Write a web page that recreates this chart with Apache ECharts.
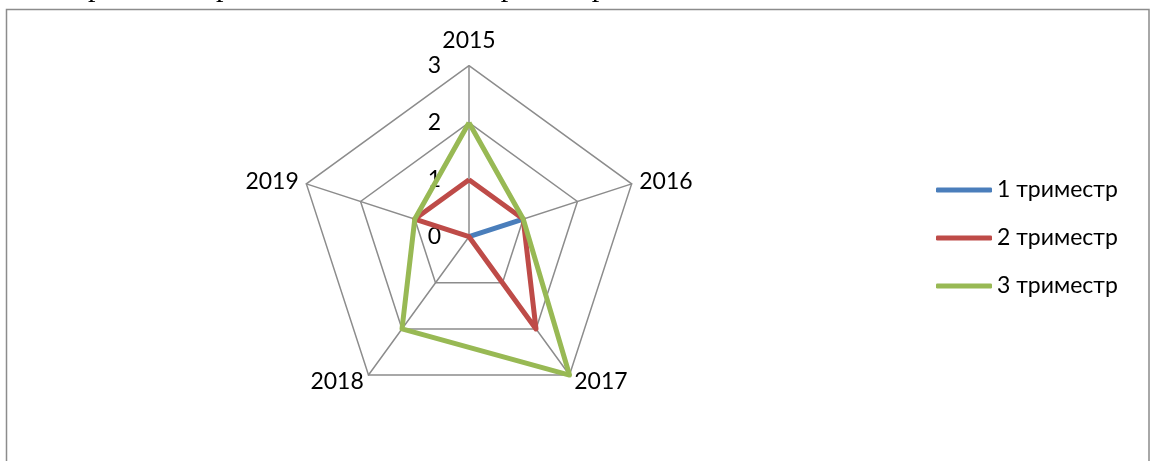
<!DOCTYPE html>
<html>
<head>
<meta charset="utf-8">
<script src="https://cdn.jsdelivr.net/npm/echarts@6/dist/echarts.min.js"></script>
<style>
html,body{margin:0;padding:0;background:#fff;}
#c{width:1156px;height:461px;}
</style>
</head>
<body>
<div id="c"></div>
<script>
const categories = ['2015', '2016', '2017', '2018', '2019'];
const seriesNames = ['1 триместр', '2 триместр', '3 триместр'];
const tri1 = [0, 1, 0, 0, 0];
const tri2 = [1, 1, 2, 0, 1];
const tri3 = [2, 1, 3, 2, 1];
const colors = ['#4A7EBB', '#BE4B48', '#98B954'];
const axisMax = 3;
const topText = 'ними сроками беременности – в I и II триместре.';

const FONT = 'Lato, "Noto Sans", sans-serif';
const chart = echarts.init(document.getElementById('c'), null, {renderer: 'canvas'});

// ECharts radar runs counter-clockwise; reorder to draw clockwise like the reference
const order = categories.map((c, i) => (categories.length - i) % categories.length);
const reorder = arr => order.map(i => arr[i]);

const indicator = order.map((idx, i) => {
  const o = {name: categories[idx], max: axisMax, min: 0};
  if (i === 0) {
    o.nameGap = 14;
    o.axisLabel = {show: true};
  }
  return o;
});

chart.setOption({
  animation: false,
  color: colors,
  graphic: [
    {
      type: 'rect',
      shape: {x: 6.5, y: 9.5, width: 1142.5, height: 470},
      style: {fill: 'none', stroke: '#8C8C8C', lineWidth: 1.5},
      silent: true
    },
    {
      type: 'text',
      left: 0,
      top: -27,
      style: {text: topText, font: '30px "Liberation Serif", serif', fill: '#000'},
      silent: true
    }
  ],
  legend: {
    orient: 'vertical',
    left: 931,
    top: 173,
    itemWidth: 56,
    itemHeight: 5,
    itemGap: 24,
    icon: 'roundRect',
    textStyle: {fontFamily: FONT, fontSize: 23, color: '#000', lineHeight: 24},
    data: seriesNames
  },
  radar: {
    center: [469, 236.7],
    radius: 171,
    shape: 'polygon',
    splitNumber: 3,
    startAngle: 90,
    indicator: indicator,
    nameGap: 8,
    axisName: {color: '#000', fontFamily: FONT, fontSize: 23},
    axisLine: {lineStyle: {color: '#8C8C8C', width: 1.5}},
    splitLine: {lineStyle: {color: '#8C8C8C', width: 1.5}},
    splitArea: {show: false},
    axisTick: {show: false},
    axisLabel: {show: false, color: '#000', fontFamily: FONT, fontSize: 23, margin: 28}
  },
  series: [{
    type: 'radar',
    symbol: 'none',
    data: [
      {name: seriesNames[0], value: reorder(tri1), lineStyle: {width: 5, color: colors[0]}, itemStyle: {color: colors[0]}},
      {name: seriesNames[1], value: reorder(tri2), lineStyle: {width: 5, color: colors[1]}, itemStyle: {color: colors[1]}},
      {name: seriesNames[2], value: reorder(tri3), lineStyle: {width: 5, color: colors[2]}, itemStyle: {color: colors[2]}}
    ]
  }]
});
</script>
</body>
</html>
